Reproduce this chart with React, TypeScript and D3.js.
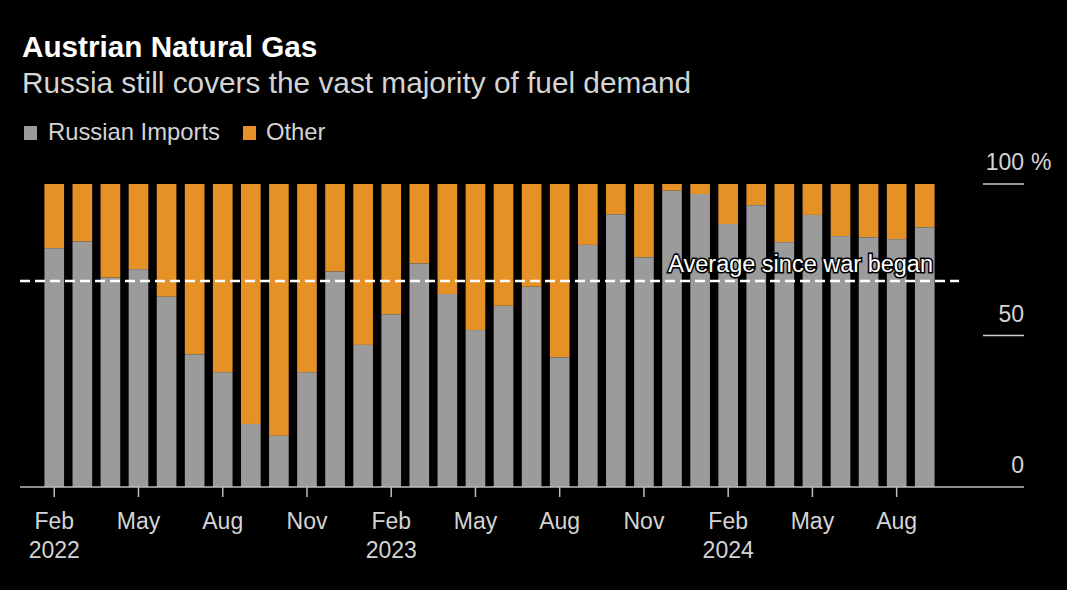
import React from "react";
import * as d3 from "d3";

const months = [
  "2022-02", "2022-03", "2022-04", "2022-05", "2022-06", "2022-07", "2022-08", "2022-09", "2022-10", "2022-11", "2022-12",
  "2023-01", "2023-02", "2023-03", "2023-04", "2023-05", "2023-06", "2023-07", "2023-08", "2023-09", "2023-10", "2023-11", "2023-12",
  "2024-01", "2024-02", "2024-03", "2024-04", "2024-05", "2024-06", "2024-07", "2024-08", "2024-09",
];
const russianShare = [
  78.8, 81.0, 69.1, 71.9, 62.8, 43.8, 37.9, 20.8, 16.9, 37.9, 71.1,
  46.9, 57.0, 73.8, 63.7, 51.8, 59.8, 66.1, 42.8, 79.9, 90.0, 75.8, 97.8,
  96.7, 86.8, 93.0, 80.8, 89.8, 82.8, 82.4, 81.8, 85.7,
];
const averageSinceWar = 68;
const xTickMonths = ["2022-02", "2022-05", "2022-08", "2022-11", "2023-02", "2023-05", "2023-08", "2023-11", "2024-02", "2024-05", "2024-08"];
const xTickLabels = ["Feb", "May", "Aug", "Nov", "Feb", "May", "Aug", "Nov", "Feb", "May", "Aug"];
const xYearLabels = ["2022", "", "", "", "2023", "", "", "", "2024", "", ""];
const yTicks = [0, 50, 100];

const W = 1067;
const H = 590;
const GRAY = "#9b9b9b";
const ORANGE = "#e69126";
const FONT = "'Liberation Sans', Arial, Helvetica, sans-serif";

export default function App() {
  const x = d3.scaleBand<string>().domain(months).range([36, 943]).padding(0.3);
  const y = d3.scaleLinear().domain([0, 100]).range([487, 184]);
  const bw = x.bandwidth();

  return (
    <svg
      width={W}
      height={H}
      style={{ position: "absolute", left: 0, top: 0, background: "#000", display: "block" }}
      fontFamily={FONT}
    >
      <rect x={0} y={0} width={W} height={H} fill="#000" />
      <text x={22} y={57} fill="#fff" fontSize={29.7} fontWeight="bold">Austrian Natural Gas</text>
      <text x={22} y={93} fill="#d4d4d4" fontSize={29.8}>Russia still covers the vast majority of fuel demand</text>

      <rect x={24} y={126} width={13} height={14} fill={GRAY} />
      <text x={48} y={140} fill="#d4d4d4" fontSize={23.8}>Russian Imports</text>
      <rect x={243} y={126} width={13} height={14} fill={ORANGE} />
      <text x={266} y={140} fill="#d4d4d4" fontSize={23.8}>Other</text>

      {months.map((m, i) => (
        <g key={m}>
          <rect x={x(m)} y={y(100)} width={bw} height={y(russianShare[i]) - y(100)} fill={ORANGE} />
          <rect x={x(m)} y={y(russianShare[i])} width={bw} height={y(0) - y(russianShare[i])} fill={GRAY} />
        </g>
      ))}

      {yTicks.map((t) => (
        <g key={t}>
          {t !== 0 && <line x1={983} x2={1024} y1={y(t)} y2={y(t)} stroke="#cfcfcf" strokeWidth={1.5} />}
          <text x={1024} y={y(t) - 14} fill="#d4d4d4" fontSize={23} textAnchor="end">{t}</text>
          {t === 100 && <text x={1031} y={y(t) - 14} fill="#d4d4d4" fontSize={23}>%</text>}
        </g>
      ))}

      <line x1={20} x2={1024} y1={y(0)} y2={y(0)} stroke="#bdbdbd" strokeWidth={1.5} />
      {xTickMonths.map((m, i) => {
        const cx = (x(m) as number) + bw / 2;
        return (
          <g key={m}>
            <line x1={cx} x2={cx} y1={y(0)} y2={y(0) + 10} stroke="#bdbdbd" strokeWidth={1.5} />
            <text x={cx} y={529} fill="#d4d4d4" fontSize={23} textAnchor="middle">{xTickLabels[i]}</text>
            {xYearLabels[i] && (
              <text x={cx} y={558} fill="#d4d4d4" fontSize={23} textAnchor="middle">{xYearLabels[i]}</text>
            )}
          </g>
        );
      })}

      <line
        x1={20}
        x2={959}
        y1={y(averageSinceWar)}
        y2={y(averageSinceWar)}
        stroke="#fff"
        strokeWidth={2.5}
        strokeDasharray="10,5"
      />
      <text
        x={933}
        y={y(averageSinceWar) - 9}
        fill="#fff"
        stroke="#000"
        strokeWidth={3}
        paintOrder="stroke"
        fontSize={23.5}
        textAnchor="end"
      >
        Average since war began
      </text>
    </svg>
  );
}
